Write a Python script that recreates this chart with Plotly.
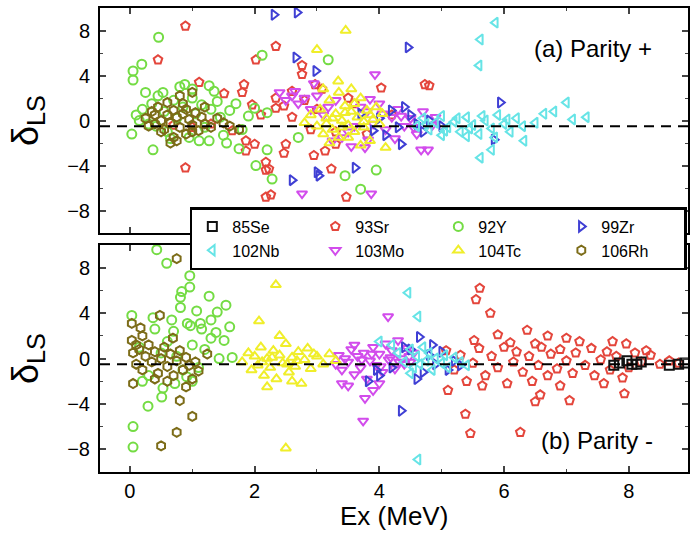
import plotly.graph_objects as go

# ---------------- data ----------------
nuclei = ["85Se", "93Sr", "92Y", "99Zr", "102Nb", "103Mo", "104Tc", "106Rh"]
colors = ["#111111", "#e4463c", "#74dc44", "#3f3fd4", "#66e4e6", "#d24cec", "#f0ee2a", "#7c6c18"]
symbols = ["square-open", "pentagon-open", "circle-open", "triangle-right-open",
           "triangle-left-open", "triangle-down-open", "triangle-up-open", "hexagon-open"]

# Parity + (top panel)
top_85Se_x = []
top_85Se_y = []
top_93Sr_x = [0.89, 0.45, 1.11, 0.89, 1.51, 1.83, 1.80, 2.02, 1.96, 2.10, 1.86, 1.86, 2.00, 2.18, 2.18, 2.18, 1.64,
              2.34, 2.76, 2.76, 2.97, 3.08, 4.03, 4.73, 2.34, 2.34, 2.47, 2.50, 2.47, 2.23, 2.95, 3.13, 3.23, 3.30,
              2.26, 3.47, 3.50, 4.80, 2.60, 2.80, 3.00, 2.90, 1.30, 1.00, 0.70, 3.60, 3.80, 4.20, 3.30, 2.60]
top_93Sr_y = [8.4, 5.4, 3.4, -4.2, 2.4, 3.2, 2.5, 5.4, 1.4, 0.5, -1.8, -2.7, -2.1, -3.7, -4.4, -6.8, -0.9,
              6.6, 4.9, 4.1, 3.2, 2.8, 2.9, 3.2, 2.0, 1.1, 1.3, -2.1, -2.9, -4.3, -3.1, -2.7, -4.3, -2.1,
              -6.6, -6.8, 2.0, 3.1, 0.3, 1.8, 1.0, -0.8, -0.3, -0.6, -0.4, 1.5, -1.2, 0.5, -1.0, 2.6]
top_92Y_x = [0.05, 0.19, 0.05, 0.46, 0.88, 2.12, 0.03, 0.37, 1.27, 0.53, 1.27, 1.11, 2.02, 0.10, 0.20, 0.30, 0.35,
             0.45, 0.55, 0.60, 0.70, 0.75, 0.85, 0.95, 1.00, 1.05, 1.15, 1.20, 1.30, 1.35, 1.45, 1.50, 1.60, 1.70,
             1.80, 1.90, 2.00, 2.20, 2.28, 2.70, 3.18, 3.45, 3.70, 3.95, 0.25, 0.65, 0.15, 1.40, 1.55, 0.42, 0.80,
             1.00, 2.20, 1.75]
top_92Y_y = [4.4, 5.0, 3.6, 7.4, 3.2, 5.8, -1.2, -2.6, 3.1, 2.5, -1.8, -1.8, -4.0, 0.5, 1.0, -0.3, 1.5,
             2.2, 0.8, -1.0, 1.8, 0.2, 1.2, -1.5, 2.0, 0.6, 1.4, -0.6, 1.0, 2.6, 0.3, -1.3, 0.9, 1.5,
             -0.8, 0.4, 1.1, -2.6, -5.2, -1.5, 5.4, -4.9, -6.1, -4.4, 2.5, -1.6, 0.0, 1.7, -2.0, -0.5, 3.0,
             2.8, 0.7, -2.5]
top_99Zr_x = [2.31, 2.68, 2.66, 2.98, 4.46, 3.03, 2.60, 3.61, 4.35, 4.19, 4.50, 5.94, 5.84, 3.00, 4.00, 4.30,
              4.60, 4.80, 3.90, 4.40, 4.70, 5.00, 3.70, 4.10]
top_99Zr_y = [9.4, 9.6, 5.6, 4.4, 6.5, -4.9, -5.3, -4.2, -2.1, 0.9, 0.5, 1.6, -1.7, -4.6, 0.2, -0.6,
              -0.3, 0.0, -0.9, 1.2, -1.0, -0.5, 0.6, -1.3]
top_102Nb_x = [5.86, 5.62, 5.60, 7.00, 6.64, 7.32, 5.62, 5.80, 6.32, 4.60, 4.70, 4.80, 4.90, 5.00, 5.10, 5.20,
               5.30, 5.40, 5.50, 5.60, 5.70, 5.80, 5.90, 6.00, 6.10, 6.20, 6.30, 6.50, 6.80, 7.10, 5.40, 5.00,
               4.75, 5.05, 5.25, 5.45, 5.65, 5.85, 6.05]
top_102Nb_y = [8.7, 7.2, 4.9, 1.6, 0.6, 0.3, -3.3, -2.6, -1.8, -0.5, 0.2, -0.8, -0.2, 0.4, -0.6, -0.1,
               -1.0, 0.3, -0.4, -1.2, 0.0, -0.7, 0.5, -0.3, -1.0, 0.2, -0.5, -0.2, 0.8, 0.1, -1.4, -1.3,
               -0.3, -0.9, 0.2, -0.7, 0.4, -1.5, 0.1]
top_103Mo_x = [3.93, 3.87, 2.76, 3.18, 3.77, 4.67, 4.78, 3.82, 2.40, 2.50, 2.60, 2.70, 2.80, 2.90, 3.00, 3.10,
               3.30, 3.40, 3.50, 3.60, 3.70, 3.80, 3.90, 4.00, 4.10, 4.20, 4.30, 4.40, 4.50, 4.60, 4.70, 4.85,
               4.90, 3.25, 3.55, 4.25, 2.95, 4.35, 4.55, 4.05, 3.85, 2.65]
top_103Mo_y = [4.1, -6.5, -6.5, 1.2, -2.4, -2.6, -2.6, -1.7, 2.5, 1.8, 2.2, 1.5, 2.0, 1.0, 2.2, 0.5,
               1.8, -1.5, -1.0, -0.5, 1.2, 0.8, -0.3, 1.5, -0.8, 0.3, 1.0, -0.5, 0.2, -1.2, 0.8, -0.4,
               0.3, -1.8, -2.3, -1.6, 3.3, 0.4, -0.6, 0.6, 1.9, 2.6]
top_104Tc_x = [3.46, 3.00, 3.34, 4.10, 2.90, 3.00, 3.05, 3.10, 3.15, 3.20, 3.25, 3.30, 3.35, 3.40, 3.45, 3.50,
               3.55, 3.60, 3.65, 3.70, 3.75, 3.80, 3.85, 3.90, 3.95, 4.00, 3.35, 3.55, 3.20, 3.70, 2.80, 4.05,
               3.10, 3.50, 3.25, 3.40, 3.60, 3.75, 3.45, 3.15, 3.85]
top_104Tc_y = [8.0, 6.3, 3.5, -2.4, 0.5, -0.5, 1.0, -1.2, 0.2, 1.8, -0.8, 0.6, -1.5, 0.0, 1.3, -0.4,
               0.8, -1.0, 0.3, 2.0, -0.6, 0.9, -1.8, 0.1, 1.2, -0.3, 2.5, 2.8, -2.0, -2.2, -0.2, 0.6,
               2.8, -1.5, 0.2, -0.6, 1.5, -0.1, 0.7, -0.3, 0.5]
top_106Rh_x = [0.25, 0.30, 0.35, 0.40, 0.45, 0.50, 0.55, 0.60, 0.60, 0.65, 0.70, 0.70, 0.75, 0.80, 0.80, 0.85,
               0.90, 0.90, 0.95, 1.00, 1.00, 1.05, 1.10, 1.15, 1.20, 1.30, 1.40, 1.50, 0.50, 0.65, 0.85, 1.20,
               0.40, 0.75, 1.00, 1.60, 1.75]
top_106Rh_y = [0.2, -0.5, 0.8, -0.3, 1.2, 0.0, -0.8, 0.5, 1.6, -0.2, 0.9, -1.5, 0.3, -0.6, 2.2, 0.6,
               -1.2, 1.0, 0.1, -0.4, 2.5, 0.7, -0.9, 0.3, -0.3, -0.6, 0.2, -0.2, -1.0, -2.0, 1.5, 1.2,
               0.5, -1.8, -1.0, -0.5, -0.8]

# Parity - (bottom panel)
bot_85Se_x = [7.76, 7.85, 7.97, 8.05, 8.13, 8.20, 8.65, 8.80, 8.90]
bot_85Se_y = [-0.6, -0.4, -0.2, -0.5, -0.5, -0.3, -0.6, -0.5, -0.4]
bot_93Sr_x = [5.61, 5.55, 5.78, 6.37, 5.38, 5.46, 6.26, 6.50, 6.58, 7.05, 7.93, 5.10, 7.21, 7.74, 7.96, 8.28,
              5.07, 5.52, 6.10, 6.50, 5.20, 5.30, 5.40, 5.50, 5.60, 5.70, 5.80, 5.90, 6.00, 6.05, 6.15, 6.20,
              6.30, 6.40, 6.45, 6.55, 6.60, 6.70, 6.75, 6.85, 6.90, 7.00, 7.10, 7.15, 7.30, 7.40, 7.45, 7.55,
              7.65, 7.70, 7.80, 7.90, 8.00, 8.10, 8.20, 8.35, 8.50, 8.65, 8.80, 5.90, 6.70, 7.00, 5.65, 6.90,
              7.60]
bot_93Sr_y = [6.2, 5.2, 4.0, 2.5, -4.9, -6.6, -6.5, -3.8, -3.2, -3.7, -3.1, -2.8, 1.5, 1.5, 1.3, 0.7,
              0.7, 1.6, 1.4, 1.3, -1.0, 0.3, -2.0, -0.4, 0.9, -1.5, 0.2, -0.8, 1.0, -2.2, -0.3, 0.6,
              -1.2, 0.2, -2.0, -0.6, 1.0, -1.5, 0.4, -0.9, 0.8, -0.2, -1.3, 0.5, -0.6, 0.9, -1.5, -0.1,
              0.6, -1.0, 0.2, -1.7, -0.8, 0.5, -0.3, 0.3, -0.5, -0.2, -0.4, 2.1, 2.0, 1.8, -2.4, -2.4,
              -2.2]
bot_92Y_x = [0.43, 0.59, 0.96, 0.96, 0.83, 0.81, 1.27, 1.07, 1.54, 1.40, 0.81, 0.67, 0.92, 1.13, 1.30, 1.38,
             1.51, 1.15, 0.97, 0.37, 0.03, 0.05, 0.05, 0.29, 0.51, 0.53, 0.72, 0.91, 1.43, 1.64, 0.60, 0.70,
             1.00, 1.20, 1.10, 0.85, 0.30, 0.15, 0.50, 1.30, 1.60, 0.20, 0.40, 1.00, 0.75]
bot_92Y_y = [9.6, 8.4, 7.3, 6.3, 5.9, 5.4, 5.5, 4.2, 4.7, 4.1, 4.5, 3.4, 3.1, 3.1, 3.4, 2.3,
             1.6, 2.6, 2.9, 3.6, 3.8, -6.0, -7.8, -4.2, -3.4, -2.6, -2.2, -1.6, 0.0, 0.1, 1.5, 2.4,
             1.2, 0.8, -0.8, -1.0, -1.5, 1.0, 0.5, 1.8, 2.8, -2.0, 2.6, -2.0, 0.2]
bot_99Zr_x = [4.35, 3.82, 4.64, 4.00, 4.20, 4.50, 4.70, 4.80, 4.90, 5.00, 5.10, 5.20, 5.30, 4.60, 4.40, 4.85,
              3.95]
bot_99Zr_y = [-4.6, -2.0, 1.9, -1.5, -0.8, 0.8, -1.2, 0.3, -0.5, 0.6, -1.0, -0.2, -0.6, -1.8, 1.0, 1.2,
              -1.0]
bot_102Nb_x = [4.46, 4.62, 4.62, 4.00, 4.30, 4.40, 4.50, 4.55, 4.60, 4.65, 4.70, 4.75, 4.80, 4.85, 4.90, 5.00,
               5.05, 5.10, 5.20, 5.30, 5.40, 4.50, 4.20]
bot_102Nb_y = [5.8, 3.7, -8.9, 1.5, 0.5, -0.3, 0.8, -0.8, 0.2, -0.5, 1.0, -0.2, 0.5, -1.0, 0.0, -0.4,
               0.3, -0.8, 0.1, -0.3, -0.6, -1.3, 1.2]
bot_103Mo_x = [4.14, 3.74, 3.77, 3.50, 3.40, 3.30, 3.35, 3.40, 3.45, 3.50, 3.55, 3.60, 3.65, 3.70, 3.75, 3.80,
               3.85, 3.90, 3.95, 4.00, 4.05, 4.10, 4.15, 4.20, 4.25, 4.30, 4.35, 4.40, 4.45, 4.50, 4.55, 3.90,
               4.00, 3.60, 3.72, 3.88, 4.02, 4.18, 4.32, 4.48]
bot_103Mo_y = [3.7, -5.5, -3.5, -2.4, -2.2, -0.5, 0.3, -1.0, 0.0, -0.3, 0.8, -1.4, 0.2, -0.8, 0.5, -1.8,
               -0.2, 1.0, -0.6, 0.4, -1.2, 1.3, -0.1, 0.7, -0.9, 1.6, 0.0, -0.5, 0.9, -0.3, 0.5, -2.8,
               -2.2, 1.2, -0.1, 0.4, -0.7, 0.1, -0.3, 0.2]
bot_104Tc_x = [2.07, 2.50, 2.34, 1.80, 1.90, 1.95, 2.00, 2.05, 2.10, 2.15, 2.20, 2.25, 2.30, 2.35, 2.40, 2.45,
               2.50, 2.55, 2.60, 2.65, 2.70, 2.75, 2.80, 2.85, 2.90, 3.00, 3.10, 3.20, 3.30, 2.40, 2.20, 2.60,
               2.12, 2.28, 2.52, 2.68, 2.95]
bot_104Tc_y = [3.3, -7.9, 6.5, -0.3, 0.5, -1.0, 0.2, -0.6, 1.0, -1.5, 0.0, -0.8, 0.7, -1.8, 0.3, -0.4,
               1.3, -1.2, 0.1, -0.7, 0.6, -2.2, -0.1, 0.9, -0.9, 0.2, -0.5, 0.4, -0.2, 2.0, -2.5, -2.0,
               -0.3, 0.1, -0.5, -0.2, 0.4]
bot_106Rh_x = [0.75, 0.03, 0.17, 0.48, 0.69, 0.03, 1.24, 0.80, 1.00, 0.75, 0.50, 0.05, 0.90, 0.05, 0.10, 0.15,
               0.20, 0.25, 0.30, 0.35, 0.40, 0.45, 0.50, 0.55, 0.60, 0.65, 0.70, 0.75, 0.80, 0.85, 0.90, 0.95,
               1.00, 1.05, 1.10, 0.20, 0.10, 0.40, 0.60]
bot_106Rh_y = [8.8, 3.1, 2.7, 3.8, 1.8, 1.6, 0.4, -3.7, -5.1, -6.5, -7.7, -2.2, -2.5, 0.5, -0.5, 0.8,
               -1.0, 0.2, 1.2, -0.3, 0.6, -1.3, 0.0, 1.0, -0.7, 0.4, -1.5, -0.2, 0.7, -1.0, 0.1, -0.6,
               -1.8, -0.3, -1.1, 2.0, 1.2, -1.8, -2.0]

top_x = [top_85Se_x, top_93Sr_x, top_92Y_x, top_99Zr_x, top_102Nb_x, top_103Mo_x, top_104Tc_x, top_106Rh_x]
top_y = [top_85Se_y, top_93Sr_y, top_92Y_y, top_99Zr_y, top_102Nb_y, top_103Mo_y, top_104Tc_y, top_106Rh_y]
bot_x = [bot_85Se_x, bot_93Sr_x, bot_92Y_x, bot_99Zr_x, bot_102Nb_x, bot_103Mo_x, bot_104Tc_x, bot_106Rh_x]
bot_y = [bot_85Se_y, bot_93Sr_y, bot_92Y_y, bot_99Zr_y, bot_102Nb_y, bot_103Mo_y, bot_104Tc_y, bot_106Rh_y]

x_ticks = [0, 2, 4, 6, 8]
y_ticks = [-8, -4, 0, 4, 8]
mean_line = -0.5

# ---------------- figure ----------------
fig = go.Figure()
draw_order = [1, 2, 7, 5, 3, 4, 6, 0]
for i in draw_order:
    mk = dict(symbol=symbols[i], size=9, color=colors[i], line=dict(width=2, color=colors[i]))
    fig.add_trace(go.Scatter(x=top_x[i], y=top_y[i], mode="markers", marker=mk, name=nuclei[i],
                             xaxis="x2", yaxis="y2", showlegend=False, legendrank=i))
    fig.add_trace(go.Scatter(x=bot_x[i], y=bot_y[i], mode="markers", marker=mk, name=nuclei[i],
                             xaxis="x", yaxis="y", showlegend=True, legendrank=i + 1))

font = "Liberation Sans, Arial, sans-serif"
common_x = dict(range=[-0.48, 8.95], tickvals=x_ticks, ticks="inside", ticklen=6, tickwidth=1.5,
                showline=True, linecolor="black", linewidth=2, mirror="ticks", showgrid=False,
                zeroline=False, minor=dict(dtick=1, ticks="inside", ticklen=3, tickwidth=1.2),
                tickfont=dict(size=20, color="black", family=font))
common_y = dict(range=[-10, 10], tickvals=y_ticks, ticks="inside", ticklen=6, tickwidth=1.5,
                showline=True, linecolor="black", linewidth=2, mirror="ticks", showgrid=False,
                zeroline=False, minor=dict(dtick=2, ticks="inside", ticklen=3, tickwidth=1.2),
                tickfont=dict(size=20, color="black", family=font), ticklabelstandoff=4)

fig.update_layout(
    width=690, height=534,
    margin=dict(l=100, r=2, t=8, b=62, autoexpand=False),
    plot_bgcolor="white", paper_bgcolor="white",
    font=dict(family=font, color="black"),
    xaxis=dict(common_x, domain=[0, 1], anchor="y"),
    yaxis=dict(common_y, domain=[0, 0.489], anchor="x",
               title=dict(text="δ<sub>LS</sub>", font=dict(size=36), standoff=18)),
    xaxis2=dict(common_x, domain=[0, 1], anchor="y2", matches="x", showticklabels=False),
    yaxis2=dict(common_y, domain=[0.515, 1], anchor="x2",
                title=dict(text="δ<sub>LS</sub>", font=dict(size=36), standoff=18)),
    legend=dict(orientation="h", x=0.998, y=0.571, xanchor="right", yanchor="top",
                bgcolor="white", bordercolor="black", borderwidth=2.5,
                font=dict(size=16, color="black", family=font),
                entrywidth=78, itemwidth=30, traceorder="normal"),
    shapes=[
        dict(type="line", xref="x domain", yref="y", x0=0, x1=1, y0=mean_line, y1=mean_line,
             line=dict(color="black", width=2, dash="10px,7px"), layer="above"),
        dict(type="line", xref="x2 domain", yref="y2", x0=0, x1=1, y0=mean_line, y1=mean_line,
             line=dict(color="black", width=2, dash="10px,7px"), layer="above"),
    ],
    annotations=[
        dict(text="(a) Parity +", xref="x2 domain", yref="y2 domain", x=0.838, y=0.822,
             xanchor="center", yanchor="middle",
             showarrow=False, font=dict(size=24, color="black")),
        dict(text="(b) Parity -", xref="x domain", yref="y domain", x=0.845, y=0.141,
             xanchor="center", yanchor="middle",
             showarrow=False, font=dict(size=24, color="black")),
        dict(text="Ex (MeV)", xref="x domain", yref="paper", x=0.5, y=-0.094,
             xanchor="center", yanchor="middle",
             showarrow=False, font=dict(size=26, color="black")),
    ],
)

fig.write_html("out.html")
